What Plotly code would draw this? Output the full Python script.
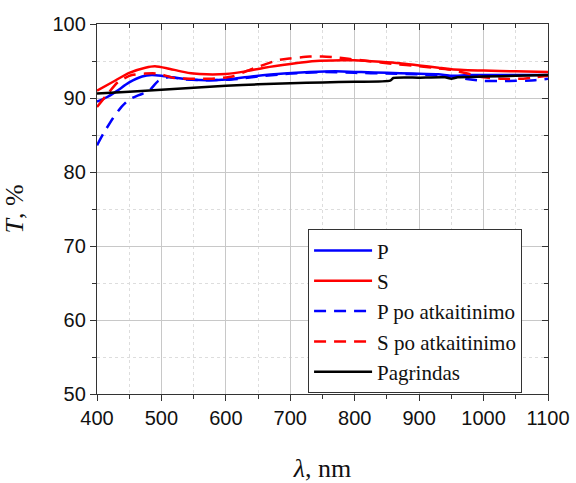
import plotly.graph_objects as go

# ---- data ----
wl_S = [400, 425, 450, 475, 490, 510, 530, 550, 570, 600, 630, 660, 700, 740, 780, 800, 840, 870, 900, 930, 950, 1000, 1050, 1100]
T_S = [91.0, 92.2, 93.4, 94.1, 94.3, 94.0, 93.6, 93.3, 93.2, 93.25, 93.6, 94.1, 94.6, 95.0, 95.1, 95.1, 94.9, 94.7, 94.4, 94.1, 93.9, 93.7, 93.6, 93.5]

wl_P = [400, 415, 430, 450, 470, 485, 500, 525, 550, 575, 600, 640, 690, 730, 770, 810, 850, 890, 930, 950, 975, 1000, 1050, 1100]
T_P = [89.5, 90.1, 90.9, 92.1, 92.9, 93.1, 93.0, 92.7, 92.45, 92.4, 92.5, 92.9, 93.3, 93.5, 93.6, 93.5, 93.4, 93.3, 93.2, 93.0, 93.1, 93.1, 93.1, 93.1]

wl_Sa = [400, 415, 433, 454, 475, 495, 520, 545, 575, 610, 640, 680, 700, 730, 750, 770, 790, 820, 860, 900, 930, 950, 975, 1000, 1030, 1060, 1080, 1100]
T_Sa = [88.8, 90.4, 92.2, 93.1, 93.3, 93.3, 92.7, 92.6, 92.6, 92.9, 93.9, 95.1, 95.35, 95.6, 95.6, 95.5, 95.3, 95.0, 94.6, 94.3, 94.0, 93.8, 93.3, 92.8, 92.6, 92.6, 92.8, 93.0]

wl_Pa = [400, 410, 425, 438, 450, 465, 480, 495, 510, 540, 575, 610, 650, 700, 750, 800, 850, 900, 950, 980, 1000, 1040, 1080, 1100]
T_Pa = [83.6, 85.2, 87.3, 88.8, 89.8, 90.4, 90.9, 92.3, 92.8, 92.5, 92.4, 92.5, 92.9, 93.3, 93.5, 93.4, 93.3, 93.2, 92.9, 92.5, 92.3, 92.3, 92.4, 92.6]

wl_B = [400, 450, 500, 550, 600, 650, 700, 750, 800, 855, 860, 900, 940, 950, 960, 1000, 1050, 1100]
T_B = [90.6, 90.85, 91.1, 91.4, 91.65, 91.85, 92.0, 92.1, 92.2, 92.35, 92.7, 92.75, 92.8, 92.6, 92.8, 92.9, 93.0, 93.1]

x_ticks = [400, 500, 600, 700, 800, 900, 1000, 1100]
y_ticks = [50, 60, 70, 80, 90, 100]

names = ["P", "S", "P po atkaitinimo", "S po atkaitinimo", "Pagrindas"]

fig = go.Figure()
series = [
    (wl_P, T_P, "#0000ff", "solid"),
    (wl_S, T_S, "#ff0000", "solid"),
    (wl_Pa, T_Pa, "#0000ff", "12px,8px"),
    (wl_Sa, T_Sa, "#ff0000", "12px,8px"),
    (wl_B, T_B, "#000000", "solid"),
]
for i, ((x, y, c, d), n) in enumerate(zip(series, names)):
    fig.add_trace(go.Scatter(x=x, y=y, mode="lines", name=n,
                             line=dict(color=c, width=2.5, dash=d, shape="spline", smoothing=0.6)))

axis_common = dict(showline=True, linecolor="#333", linewidth=1.3, mirror=False, automargin=False,
                   gridcolor="#c8c8c8", gridwidth=1, zeroline=False,
                   ticks="outside", ticklen=6, tickcolor="#333", tickwidth=1.2,
                   tickfont=dict(family="Liberation Sans, Arial", size=20, color="#111"))

serif = "Liberation Serif, Times New Roman"
fig.update_layout(
    width=576, height=483,
    margin=dict(l=97, r=28, t=24, b=89, autoexpand=False),
    paper_bgcolor="white", plot_bgcolor="white",
    showlegend=True,
    legend=dict(x=0.468, xanchor="left", y=0.445, yanchor="top",
                bgcolor="white", bordercolor="#333", borderwidth=1,
                font=dict(family=serif, size=21, color="#111"),
                itemwidth=58),
    xaxis=dict(range=[400, 1100], tickvals=x_ticks, **axis_common,
               minor=dict(dtick=50, tick0=400, ticks="outside", ticklen=4, tickcolor="#333",
                          showgrid=True, gridcolor="#dddddd", griddash="dot"),
               title=dict(text="<i>λ</i>, nm", font=dict(family=serif, size=26, color="#111"), standoff=30)),
    yaxis=dict(range=[50, 100], tickvals=y_ticks, **axis_common,
               minor=dict(dtick=5, tick0=50, ticks="outside", ticklen=4, tickcolor="#333",
                          showgrid=True, gridcolor="#dddddd", griddash="dot"),
               title=dict(text="<i>T</i>, %", font=dict(family=serif, size=26, color="#111"), standoff=24)),
    xaxis2=dict(range=[400, 1100], overlaying="x", side="top", showline=True, linecolor="#333", linewidth=1.3,
                tickvals=x_ticks, showticklabels=False, ticks="inside", ticklen=6, tickcolor="#333",
                showgrid=False, zeroline=False, automargin=False,
                minor=dict(dtick=50, tick0=400, ticks="inside", ticklen=4, tickcolor="#333")),
    yaxis2=dict(range=[50, 100], overlaying="y", side="right", showline=True, linecolor="#333", linewidth=1.3,
                tickvals=y_ticks, showticklabels=False, ticks="inside", ticklen=6, tickcolor="#333",
                showgrid=False, zeroline=False, automargin=False,
                minor=dict(dtick=5, tick0=50, ticks="inside", ticklen=4, tickcolor="#333")),
)
fig.add_trace(go.Scatter(x=[400], y=[50], xaxis="x2", yaxis="y2", mode="markers",
                         marker=dict(opacity=0), showlegend=False, hoverinfo="skip"))

fig.write_html("out.html")
